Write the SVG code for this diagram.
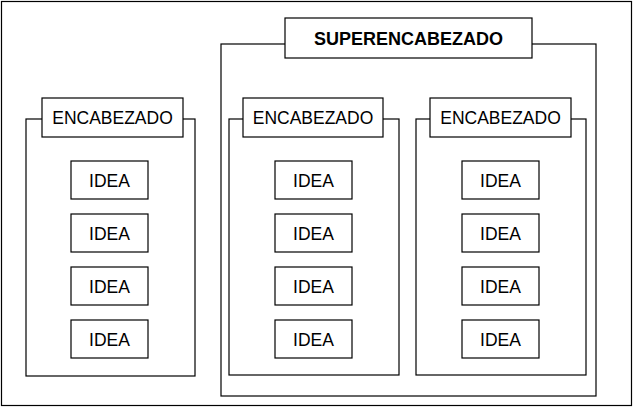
<svg xmlns="http://www.w3.org/2000/svg" width="633" height="408" viewBox="0 0 633 408">
<style>
rect{fill:#fff;stroke:#000;stroke-width:1.2}
text{font-family:"Liberation Sans",Arial,sans-serif;font-size:17.5px;text-anchor:middle;dominant-baseline:central}
.b{font-weight:bold;font-size:18px}
</style>
<rect x="1.5" y="1.5" width="630" height="404"/>
<g id="left-panel">
<rect x="26" y="119" width="169" height="257"/>
<rect x="42" y="98" width="141" height="39"/><text x="112.5" y="118">ENCABEZADO</text>
<rect x="71" y="161" width="77" height="38"/><text x="109.5" y="180.5">IDEA</text>
<rect x="71" y="214" width="77" height="38"/><text x="109.5" y="233.5">IDEA</text>
<rect x="71" y="267" width="77" height="38"/><text x="109.5" y="286.5">IDEA</text>
<rect x="71" y="320" width="77" height="38"/><text x="109.5" y="339.5">IDEA</text>
</g>
<g id="super-panel">
<rect x="221" y="44" width="375" height="352"/>
<rect x="285" y="18" width="247" height="40"/><text class="b" x="408.5" y="38.5">SUPERENCABEZADO</text>
</g>
<g id="middle-panel">
<rect x="229" y="119" width="170" height="256"/>
<rect x="243" y="98" width="140" height="39"/><text x="313" y="118">ENCABEZADO</text>
<rect x="275" y="161" width="77" height="38"/><text x="313.5" y="180.5">IDEA</text>
<rect x="275" y="214" width="77" height="38"/><text x="313.5" y="233.5">IDEA</text>
<rect x="275" y="267" width="77" height="38"/><text x="313.5" y="286.5">IDEA</text>
<rect x="275" y="320" width="77" height="38"/><text x="313.5" y="339.5">IDEA</text>
</g>
<g id="right-panel">
<rect x="416" y="119" width="170" height="256"/>
<rect x="430" y="98" width="141" height="39"/><text x="500.5" y="118">ENCABEZADO</text>
<rect x="462" y="161" width="77" height="38"/><text x="500.5" y="180.5">IDEA</text>
<rect x="462" y="214" width="77" height="38"/><text x="500.5" y="233.5">IDEA</text>
<rect x="462" y="267" width="77" height="38"/><text x="500.5" y="286.5">IDEA</text>
<rect x="462" y="320" width="77" height="38"/><text x="500.5" y="339.5">IDEA</text>
</g>
<g id="connectors"/>
</svg>
